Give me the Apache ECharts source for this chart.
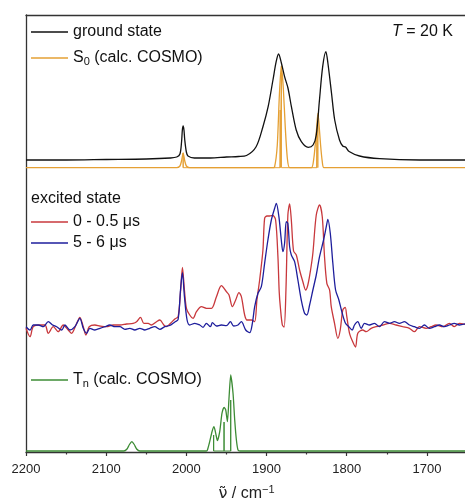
<!DOCTYPE html>
<html><head><meta charset="utf-8">
<script src="https://cdn.jsdelivr.net/npm/echarts@6/dist/echarts.min.js"></script>
<style>html,body{margin:0;padding:0;background:#fff}#c{width:465px;height:499px}</style>
</head><body><div id="c"></div>
<script>
// x axis (wavenumber, cm^-1), reversed
const wnMin = 1650, wnMax = 2200;
const majorTicks = [2200, 2100, 2000, 1900, 1800, 1700];
const minorTicks = [2150, 2050, 1950, 1850, 1750];

// ground state (offset trace, arbitrary units)
const groundState = [[2200,292],[2150,292],[2100,292.5],[2050,293],[2020,294],[2012,295],[2008,298],[2006,310],[2005,322],[2004,326],[2003,322],[2002,312],[2000,300],[1998,296],[1990,294],[1970,294],[1950,295],[1935,295.5],[1925,296.5],[1913,305.3],[1904.5,325.3],[1898,345.3],[1892,372],[1888,390.3],[1885,398],[1881.5,389],[1877.5,375.3],[1873.3,364],[1869,345.3],[1863,322],[1856.6,310.3],[1848,304.7],[1842,307],[1838,317],[1834,352],[1830,385.3],[1826,400.3],[1823.5,389],[1819,359],[1815,332],[1809,312],[1805,306],[1801.5,305],[1797,300.5],[1784,296],[1759,293.3],[1709,292],[1650,292]];

// S0 calc. COSMO (broadened) and its sticks
const s0Calc = [[2200,284.3],[2012,284.3],[2008,286],[2006,291],[2004,299],[2002,291],[2000,286],[1996,284.3],[1893,284.3],[1890,285],[1886.6,307],[1884,357],[1881.6,386.3],[1879.1,364],[1876.6,324],[1874.1,294],[1871.2,284.3],[1844,284.3],[1841,294],[1838.9,310.3],[1837.2,327],[1836,338.7],[1834.8,330.3],[1832.6,307],[1830.5,290.3],[1828.5,284.3],[1650,284.3]];
const s0Base = 284.3;
const s0Sticks = [[2004,299],[1883,342],[1881.4,386],[1837.2,322],[1835.8,337]];

// excited state 0 - 0.5 us
const exc05 = [[2200,123.7],[2195,115.3],[2190.9,125.3],[2182.6,127],[2176.3,127],[2172.2,118.7],[2166,125.3],[2159.8,120.3],[2153.6,127],[2147.3,122],[2143.1,118.7],[2137.7,127],[2132.8,134.7],[2128.6,125.3],[2125.3,117],[2121.2,125.3],[2114.1,127],[2107.8,126],[2099.5,125.3],[2091.3,127],[2083,127],[2074.6,128],[2066.4,128.7],[2062.1,130.3],[2057.2,134.7],[2053,128.7],[2047.7,128.7],[2043.5,127],[2037.2,130.3],[2033.1,132],[2028.1,127],[2024.8,125.3],[2019.8,128.7],[2014.4,133],[2010.3,135.3],[2007.3,160],[2004.9,184.7],[2002.4,162],[1999.9,143.7],[1995.8,137],[1991.7,133.7],[1987.4,140.3],[1981.2,145.3],[1975,143.7],[1968.7,143.7],[1962.5,155.3],[1956.3,166.3],[1950.1,160.3],[1946.8,157],[1942.6,145.3],[1938.5,152],[1934.4,159.3],[1931.4,155.3],[1927.3,137],[1924.4,132],[1918.9,132],[1914.8,130.3],[1912,152],[1908.6,172],[1904.5,202],[1902.4,233.7],[1899.5,236],[1896.2,236],[1892.2,236.5],[1888.7,232],[1885.8,195.3],[1884.2,160],[1882.8,145],[1880.3,127],[1878.1,125],[1875.8,162],[1873.4,237],[1871.2,248],[1869.1,232],[1866.3,201],[1862.9,197],[1858.8,182],[1854.7,170.3],[1851.3,162],[1848.5,167],[1845.1,182],[1842.2,199],[1838,237],[1833.9,247],[1830.5,235.3],[1827.7,195.3],[1824.8,168.7],[1821.4,162],[1819.3,145.3],[1815.2,128.7],[1811.1,113.7],[1808.1,122],[1804.9,142],[1801.9,144.7],[1799.9,135.3],[1796.5,118.7],[1792.4,110],[1789,105],[1786.2,118.7],[1780,122],[1775.7,120.3],[1769.5,123.7],[1763.3,125.3],[1755,127],[1746.7,128.7],[1738.4,127],[1730.2,125.3],[1721.8,123.7],[1715.6,120.3],[1709.4,125.3],[1701,123.7],[1694.8,125.3],[1688.6,127],[1680.3,125.3],[1672,128.7],[1665.8,125.3],[1659.5,128.7],[1650,127]];

// excited state 5 - 6 us
const exc56 = [[2200,125.3],[2195,122],[2190.9,127],[2184.7,127],[2178.5,125.3],[2172.2,130.3],[2166.8,127],[2161.8,125.3],[2155.5,122],[2151.4,127],[2145.2,122],[2139,125.3],[2132.8,133.7],[2128.6,123.7],[2124.4,118.7],[2120.3,123.7],[2114.1,122],[2107.8,123.7],[2101.6,125.3],[2095.4,127],[2089.2,125.3],[2082.9,125.3],[2076.7,122.7],[2070.5,123.7],[2064.3,122],[2058,123.7],[2051.8,122],[2045.6,123.7],[2039.4,125.3],[2033.1,122.7],[2026.9,125.3],[2020.7,126.5],[2014.4,130],[2010.3,132.5],[2007.3,162],[2004.9,179.3],[2002.4,155.3],[1999.1,132],[1995.8,127],[1989.5,128.7],[1983.3,127],[1979.2,124.7],[1975,128.7],[1970,125.3],[1967.5,129.3],[1962.5,126],[1956.3,127],[1950.1,126.3],[1945.1,130.3],[1941,126],[1935.6,127],[1931.4,130.3],[1926,122],[1921,119.3],[1917.7,128.7],[1914.8,145.3],[1910.7,158.7],[1906.5,165.3],[1902.4,188.7],[1898.3,212],[1894,232],[1889.9,243.7],[1887.8,248.7],[1884.6,235.3],[1881.6,212],[1879.6,200.3],[1877.5,208.7],[1875.4,230.3],[1873.4,228.7],[1871.2,205.3],[1869.1,197],[1865,190.3],[1860.9,172],[1856.7,152],[1852.6,138.7],[1849.7,137],[1846.3,147],[1842.2,162],[1838,177],[1833.9,195.3],[1828.9,212],[1825.5,225.3],[1823.5,232.7],[1820.5,218.7],[1817.3,188.7],[1813.9,162],[1809.8,152],[1805.6,138.7],[1801.5,128.7],[1797.4,125.3],[1793.2,122],[1790.3,127],[1786.2,130.3],[1782,123.7],[1777.8,128.7],[1771.6,127],[1765.4,128.7],[1759.2,125.3],[1752.9,130.3],[1746.7,128.7],[1740.5,130.3],[1734.3,128.7],[1728,130.3],[1721.8,127],[1715.6,125.3],[1709.4,123.7],[1703.1,127],[1696.9,123.7],[1690.7,125.3],[1684.4,127],[1678.2,125.3],[1672,127],[1665.8,128.7],[1659.5,127],[1650,128.7]];

// Tn calc. COSMO (broadened) and sticks
const tnCalc = [[2200,1],[2078,1],[2074,3],[2071,7.5],[2068,10.3],[2065,7.5],[2062,3],[2058,1],[1975,1],[1973.7,2],[1970.9,10.3],[1968,20.3],[1965.5,25.3],[1963,17],[1961.3,11.3],[1958.4,20.3],[1955.6,38.7],[1953,44.7],[1950.9,42],[1948.8,30.3],[1946.7,55.3],[1944.7,77],[1941.8,58.7],[1939.7,32],[1937.6,12],[1935.6,2],[1933,1],[1650,1]];
const tnBase = 1;
const tnSticks = [[1966,17],[1953,30],[1944.7,52]];

function stickData(sticks, base) {
  const out = [];
  sticks.forEach(([x, h]) => { out.push([x, base], [x, h], [x, base]); });
  return out;
}

const FONT = 'Liberation Sans, Arial, Helvetica, sans-serif';
const C = {black:'#111111', orange:'#E5A034', red:'#C8383C', blue:'#1E1E9C', green:'#3D8C35'};

const legendCommon = {
  orient: 'horizontal', left: 31, padding: 0, itemWidth: 37, itemHeight: 1.6, icon: 'rect',
  selectedMode: false,
  textStyle: {fontFamily: FONT, fontSize: 16, lineHeight: 18, color: '#111',
    rich: {n: {fontFamily: FONT, fontSize: 16, lineHeight: 18, color: '#111'},
           sub: {fontFamily: FONT, fontSize: 11, lineHeight: 9, verticalAlign: 'bottom', color: '#111'}}},
  formatter: function (name) {
    if (name === 'S0 (calc. COSMO)') return '{n|S}{sub|0}{n| (calc. COSMO)}';
    if (name === 'Tn (calc. COSMO)') return '{n|T}{sub|n}{n| (calc. COSMO)}';
    return '{n|' + name + '}';
  }
};

const chart = echarts.init(document.getElementById('c'), null, {renderer: 'canvas'});
const line = (name, data, color, extra) => Object.assign({
  name, type: 'line', data, symbol: 'none', smooth: 0.25, animation: false,
  lineStyle: {color, width: 1.3}, itemStyle: {color}, z: 3
}, extra || {});

chart.setOption({
  backgroundColor: '#fff',
  animation: false,
  grid: {left: 26, right: -2, top: 15, bottom: 47, containLabel: false, outerBoundsMode: 'none'},
  xAxis: [{
    type: 'value', min: wnMin, max: wnMax, inverse: true, position: 'bottom',
    axisLine: {show: true, lineStyle: {color: '#333', width: 1.3}},
    axisTick: {show: true, customValues: majorTicks, length: 4, inside: false, lineStyle: {color: '#333', width: 1.2}},
    axisLabel: {show: true, customValues: majorTicks, margin: 11, fontFamily: FONT, fontSize: 13, color: '#222',
      formatter: v => String(v)},
    splitLine: {show: false},
    name: '{nu|ν̃}{n| / cm}{sup|−1}', nameLocation: 'middle', nameGap: 32,
    nameTextStyle: {fontFamily: FONT, fontSize: 16, color: '#222',
      rich: {nu: {fontFamily: 'DejaVu Sans', fontSize: 16, lineHeight: 20, color: '#222'},
             n: {fontFamily: FONT, fontSize: 16, lineHeight: 20, color: '#222'},
             sup: {fontFamily: FONT, fontSize: 11, lineHeight: 11, verticalAlign: 'top', color: '#222'}}}
  }, {
    type: 'value', min: wnMin, max: wnMax, inverse: true, position: 'bottom',
    axisLine: {show: false},
    axisTick: {show: true, customValues: minorTicks, length: 2.5, lineStyle: {color: '#333', width: 1.2}},
    axisLabel: {show: false}, splitLine: {show: false}
  }, {
    type: 'value', min: wnMin, max: wnMax, inverse: true, position: 'top',
    axisLine: {show: true, lineStyle: {color: '#333', width: 1.3}},
    axisTick: {show: false}, axisLabel: {show: false}, splitLine: {show: false}
  }],
  yAxis: {
    type: 'value', min: 0, max: 437,
    axisLine: {show: true, lineStyle: {color: '#333', width: 1.3}},
    axisTick: {show: false}, axisLabel: {show: false}, splitLine: {show: false}
  },
  legend: [
    Object.assign({}, legendCommon, {data: ['ground state'], top: 23}),
    Object.assign({}, legendCommon, {data: ['S0 (calc. COSMO)'], top: 49}),
    Object.assign({}, legendCommon, {data: ['0 - 0.5 μs'], top: 213}),
    Object.assign({}, legendCommon, {data: ['5 - 6 μs'], top: 234}),
    Object.assign({}, legendCommon, {data: ['Tn (calc. COSMO)'], top: 371})
  ],
  graphic: [
    {type: 'text', x: 31, y: 199, style: {text: 'excited state', fontFamily: FONT, fontSize: 16, fill: '#111', verticalAlign: 'middle', align: 'left'}},
    {type: 'text', x: 453, y: 32, style: {text: '{i|T} = 20 K', fontFamily: FONT, fontSize: 16, fill: '#111', verticalAlign: 'middle', align: 'right',
      rich: {i: {fontFamily: FONT, fontSize: 16, fontStyle: 'italic', fill: '#111'}}}}
  ],
  series: [
    line('Tn (calc. COSMO)', tnCalc, C.green, {smooth: 0.2}),
    line('Tn sticks', stickData(tnSticks, tnBase), C.green, {smooth: false, lineStyle: {color: C.green, width: 1}}),
    line('S0 (calc. COSMO)', s0Calc, C.orange, {smooth: 0.2}),
    line('S0 sticks', stickData(s0Sticks, s0Base), C.orange, {smooth: false, lineStyle: {color: C.orange, width: 1}}),
    line('ground state', groundState, C.black, {smooth: 0.3}),
    line('0 - 0.5 μs', exc05, C.red, {smooth: 0.3}),
    line('5 - 6 μs', exc56, C.blue, {smooth: 0.3})
  ]
});
</script>
</body></html>
